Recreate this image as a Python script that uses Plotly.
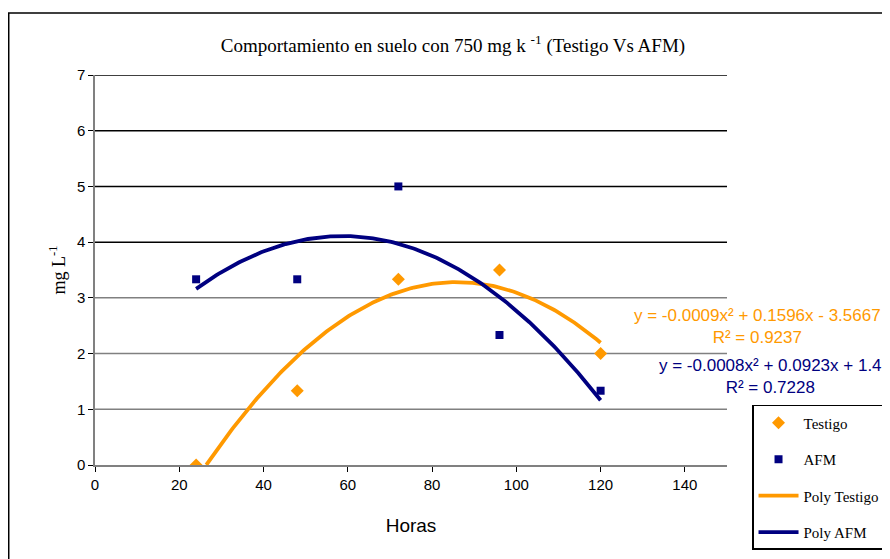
import numpy as np
import plotly.graph_objects as go

# ---- data ----
horas = [24, 48, 72, 96, 120]
testigo = [0.0, 1.333, 3.333, 3.5, 2.0]
afm = [3.333, 3.333, 5.0, 2.333, 1.333]
x_ticks = [0, 20, 40, 60, 80, 100, 120, 140]
y_ticks = [0, 1, 2, 3, 4, 5, 6, 7]

eq_testigo = "y = -0.0009x² + 0.1596x - 3.5667<br>R² = 0.9237"
eq_afm = "y = -0.0008x² + 0.0923x + 1.4<br>R² = 0.7228"

ORANGE = "#FF9900"
NAVY = "#000080"

# polynomial (order 2) trend lines fitted to the data
xs = np.linspace(min(horas), max(horas), 200)
ct = np.polyfit(horas, testigo, 2)
ca = np.polyfit(horas, afm, 2)
yt = np.polyval(ct, xs)
ya = np.polyval(ca, xs)
mask_t = yt >= 0

fig = go.Figure()
fig.add_trace(go.Scatter(x=horas, y=testigo, mode="markers", name="Testigo",
                         marker=dict(symbol="diamond", size=10, color=ORANGE),
                         legendgroup="a"))
fig.add_trace(go.Scatter(x=horas, y=afm, mode="markers", name="AFM",
                         marker=dict(symbol="square", size=8, color=NAVY),
                         legendgroup="b"))
fig.add_trace(go.Scatter(x=xs[mask_t], y=yt[mask_t], mode="lines", name="Poly Testigo",
                         line=dict(color=ORANGE, width=3.8), legendgroup="c"))
fig.add_trace(go.Scatter(x=xs, y=ya, mode="lines", name="Poly AFM",
                         line=dict(color=NAVY, width=3.8), legendgroup="d"))

shapes = []
for v in y_ticks[1:]:
    shapes.append(dict(type="line", xref="paper", yref="y", x0=0, x1=1, y0=v, y1=v,
                       line=dict(color="#000000" if v >= 4 else "#808080", width=1.5),
                       layer="below"))
# outer chart border
shapes.append(dict(type="rect", xref="paper", yref="paper", x0=-0.1365, x1=1.5,
                   y0=-0.5, y1=1.159, line=dict(color="#000000", width=1.5),
                   fillcolor="rgba(0,0,0,0)", layer="below"))

fig.update_layout(
    width=882, height=551,
    margin=dict(l=87, r=163, t=67, b=94, autoexpand=False),
    paper_bgcolor="white", plot_bgcolor="white",
    title=dict(text="Comportamiento en suelo con 750 mg k <sup>-1</sup> (Testigo Vs AFM)",
               x=0.5045, xanchor="center", y=0.933, yanchor="middle",
               font=dict(family="Liberation Serif, Times New Roman, serif", size=19, color="black")),
    xaxis=dict(range=[0, 150], tickvals=x_ticks, showgrid=False, zeroline=False,
               showline=True, linecolor="#808080", linewidth=1.5,
               ticks="outside", ticklen=5, tickcolor="#000000",
               tickfont=dict(family="Liberation Sans, Arial, sans-serif", size=15, color="black"),
               title=dict(text="Horas", standoff=27,
                          font=dict(family="Liberation Sans, Arial, sans-serif", size=19, color="black"))),
    yaxis=dict(range=[0, 7], tickvals=y_ticks, showgrid=False, zeroline=False,
               showline=True, linecolor="#808080", linewidth=1.5,
               ticks="outside", ticklen=5, tickcolor="#000000",
               tickfont=dict(family="Liberation Sans, Arial, sans-serif", size=15, color="black"),
               title=dict(text="mg L<sup>-1</sup>", standoff=7,
                          font=dict(family="Liberation Serif, Times New Roman, serif", size=18, color="black"))),
    legend=dict(x=1.0396, y=0.154, xanchor="left", yanchor="top",
                bordercolor="#000000", borderwidth=1.5, bgcolor="white",
                font=dict(family="Liberation Serif, Times New Roman, serif", size=15, color="black"),
                tracegroupgap=14, itemwidth=40),
    shapes=shapes,
    annotations=[
        dict(text=eq_testigo, xref="paper", yref="paper", x=1.048, y=0.356,
             xanchor="center", yanchor="middle", showarrow=False, align="center",
             font=dict(family="Liberation Sans, Arial, sans-serif", size=17, color=ORANGE)),
        dict(text=eq_afm, xref="paper", yref="paper", x=1.069, y=0.227,
             xanchor="center", yanchor="middle", showarrow=False, align="center",
             font=dict(family="Liberation Sans, Arial, sans-serif", size=17, color=NAVY)),
    ],
)

fig.write_html("out.html")
